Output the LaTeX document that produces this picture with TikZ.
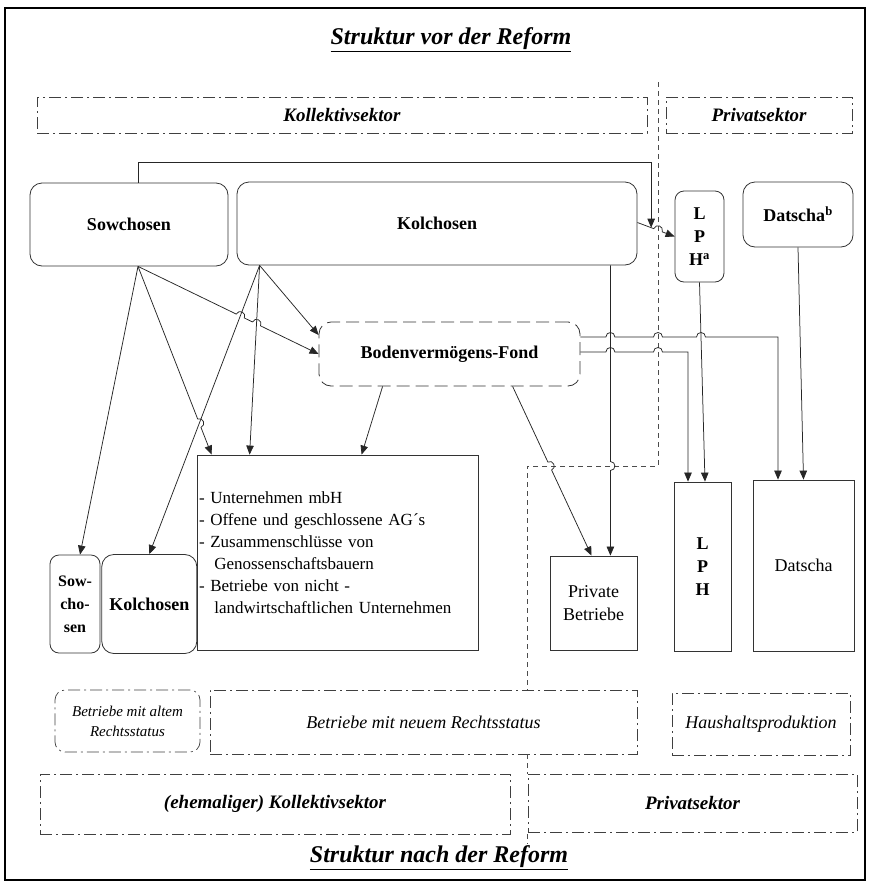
\documentclass[tikz,border=0pt]{standalone}
\usepackage{fontspec}
\setmainfont{Liberation Serif}
\usetikzlibrary{arrows.meta,positioning,calc}

% a line segment that jumps over a crossing line at #1, running from #2 towards #3
\newcommand{\hopover}[3]{-- ($(#1)!4.5pt!(#2)$) to[bend left=90,looseness=1.7] ($(#1)!4.5pt!(#3)$)}

\tikzset{
  farmbox/.style={draw=black!80, line width=0.8pt, rounded corners=12pt, inner sep=0pt,
    align=center, font=\fontsize{18}{23}\selectfont\bfseries},
  flatbox/.style={farmbox, rounded corners=0pt},
  fondbox/.style={farmbox, dash pattern=on 13pt off 6pt},
  sectorbox/.style={draw=black!75, line width=0.7pt, dash pattern=on 12pt off 4pt on 2pt off 4pt,
    inner sep=0pt, align=center, font=\fontsize{19}{23}\selectfont\bfseries\itshape},
  groupbox/.style={sectorbox, font=\fontsize{18}{21}\selectfont\itshape},
  titletext/.style={font=\fontsize{24}{28}\selectfont\bfseries\itshape},
  link/.style={draw=black!85, line width=0.75pt, -{Triangle[length=9pt,width=7.5pt]}},
  divider/.style={draw=black!70, line width=0.7pt, dash pattern=on 5pt off 4pt}
}

\begin{document}
\begin{tikzpicture}[x=1pt, y=-1pt]
    \useasboundingbox (0,0) rectangle (870,884);
    \draw[line width=2.5pt] (5,8) rectangle (865,880);

    % titles
    \node[titletext] (vor) at (451,40) {\underline{Struktur vor der Reform}};
    \node[titletext] (nach) at (439,858) {\underline{Struktur nach der Reform}};

    % sectors before the reform
    \node[sectorbox, minimum width=610pt, minimum height=36pt] (kollvor) at (342,115) {Kollektivsektor};
    \node[sectorbox, minimum width=186pt, minimum height=36pt] (privvor) at (759,115) {Privatsektor};

    % farms before the reform
    \node[farmbox, minimum width=198pt, minimum height=83pt] (sow) at (129,224.5) {Sowchosen};
    \node[farmbox, minimum width=400pt, minimum height=83pt] (kol) at (437,223.5) {Kolchosen};
    \node[farmbox, rounded corners=9pt, minimum width=49pt, minimum height=91pt] (lpha) at (699.5,236.5)
        {L\\P\\H\textsuperscript{a}};
    \node[farmbox, minimum width=110pt, minimum height=65pt] (datb) at (798,214.5) {Datscha\textsuperscript{b}};
    \node[fondbox, minimum width=261pt, minimum height=64pt] (bvf) at (449.5,354) {Bodenverm\"ogens-Fond};

    % farms after the reform
    \node[farmbox, rounded corners=9pt, font=\fontsize{16}{23}\selectfont\bfseries,
        minimum width=50pt, minimum height=98pt] (sowneu) at (75,604) {Sow-\\cho-\\sen};
    \node[farmbox, minimum width=95pt, minimum height=99pt, right=1pt of sowneu] (kolneu) {Kolchosen};
    \node[flatbox, font=\fontsize{17}{22}\selectfont, align=left, text width=277pt, inner xsep=2pt,
        minimum height=195pt] (neu) at (337.5,552.5)
        {- Unternehmen mbH\\
         - Offene und geschlossene AG´s\\
         - Zusammenschl\"usse von\\
         \hspace*{0.9em}Genossenschaftsbauern\\
         - Betriebe von nicht -\\
         \hspace*{0.9em}landwirtschaftlichen Unternehmen};
    \node[flatbox, font=\fontsize{18}{23}\selectfont, minimum width=87pt, minimum height=94pt] (priv) at (593.5,603)
        {Private\\Betriebe};
    \node[flatbox, minimum width=57pt, minimum height=169pt] (lphn) at (702.5,566.5) {L\\P\\H};
    \node[flatbox, font=\fontsize{18}{23}\selectfont, minimum width=101pt, minimum height=171pt] (datn) at (803.5,565.5)
        {Datscha};

    % groups after the reform
    \node[groupbox, rounded corners=10pt, font=\fontsize{15}{20}\selectfont\itshape,
        minimum width=145pt, minimum height=62pt] (alt) at (127.5,721) {Betriebe mit altem\\Rechtsstatus};
    \node[groupbox, minimum width=427pt, minimum height=64pt] (neurs) at (423.5,722) {Betriebe mit neuem Rechtsstatus};
    \node[groupbox, minimum width=178pt, minimum height=62pt] (haus) at (761,724) {Haushaltsproduktion};
    \node[sectorbox, minimum width=470pt, minimum height=60pt] (kollnach) at (275,804) {(ehemaliger) Kollektivsektor};
    \node[sectorbox, minimum width=329pt, minimum height=58pt] (privnach) at (692.5,803) {Privatsektor};

    % border between the sectors
    \coordinate (dtop) at (658,82);
    \coordinate (dknee) at (658,466);
    \coordinate (dfoot) at (527,466);
    \draw[divider] (dtop) -- (dknee) -- (dfoot) -- (dfoot |- alt.north);
    \draw[divider] (dfoot |- neurs.south) -- (dfoot |- kollnach.north);
    \draw[divider] (dfoot |- kollnach.south) -- ++(0,10);

    % end points of the connectors
    \coordinate (sowo) at ([xshift=9pt]sow.south);
    \coordinate (kolo) at ([xshift=23pt]kol.south west);
    \coordinate (kolp) at ([xshift=-27pt]kol.south east);
    \coordinate (kole) at ([yshift=1pt]kol.east);
    \coordinate (sowt) at ([xshift=5pt]sowneu.north);
    \coordinate (koln) at (kolneu.north);
    \coordinate (neua) at ([xshift=15pt]neu.north west);
    \coordinate (neub) at ([xshift=53pt]neu.north west);
    \coordinate (neuc) at ([xshift=165pt]neu.north west);
    \coordinate (bvfw) at (bvf.west);
    \coordinate (bvfa) at ([yshift=19pt]bvf.west);
    \coordinate (bvfb) at ([xshift=64pt]bvf.south west);
    \coordinate (bvfc) at ([xshift=194pt]bvf.south west);
    \coordinate (bvfu) at ([yshift=17pt]bvf.east);
    \coordinate (bvfl) at ([yshift=2pt]bvf.east);
    \coordinate (privt) at ([xshift=-2pt]priv.north);
    \coordinate (privk) at (kolp |- priv.north);
    \coordinate (lphw) at (lpha.west);
    \coordinate (lphb) at (lpha.south);
    \coordinate (lpht) at ([xshift=-14.5pt]lphn.north);
    \coordinate (lphs) at ([xshift=2.5pt]lphn.north);
    \coordinate (datt) at ([xshift=-25.5pt]datn.north);
    \coordinate (ucorner) at (datt |- bvfu);
    \coordinate (lcorner) at (lpht |- bvfl);
    \coordinate (merge) at ($(kole)!0.37!(lphw)$);

    % crossings
    \coordinate (c1) at (intersection of sowo--bvfw and kolo--koln);
    \coordinate (c2) at (intersection of sowo--bvfw and kolo--neub);
    \coordinate (c3) at (intersection of sowo--neua and kolo--koln);
    \coordinate (c4) at (intersection of bvfc--privt and dknee--dfoot);
    \coordinate (c5) at (kolp |- dfoot);
    \coordinate (c6) at (kolp |- bvfu);
    \coordinate (c7) at (dtop |- bvfu);
    \coordinate (c8) at (intersection of bvfu--ucorner and lphb--lphs);
    \coordinate (c9) at (kolp |- bvfl);
    \coordinate (c10) at (dtop |- bvfl);
    \coordinate (c11) at (intersection of kole--lphw and dtop--dknee);

    % Sowchosen
    \draw[link] (sowo) -- (sowt);
    \draw[link] (sowo) \hopover{c3}{sowo}{neua} -- (neua);
    \draw[link] (sowo) \hopover{c1}{sowo}{bvfw} \hopover{c2}{sowo}{bvfw} -- (bvfw);
    \draw[link] ([xshift=9pt]sow.north) -- ++(0,-20) -| (merge);

    % Kolchosen
    \draw[link] (kolo) -- (koln);
    \draw[link] (kolo) -- (neub);
    \draw[link] (kolo) -- (bvfa);
    \draw[link] (kolp) \hopover{c5}{kolp}{privk} -- (privk);
    \draw[link] (kole) \hopover{c11}{kole}{lphw} -- (lphw);

    % Bodenvermoegens-Fond
    \draw[link] (bvfb) -- (neuc);
    \draw[link] (bvfc) \hopover{c4}{bvfc}{privt} -- (privt);
    \draw[link] (bvfu) \hopover{c6}{bvfu}{ucorner} \hopover{c7}{bvfu}{ucorner} \hopover{c8}{bvfu}{ucorner}
        -- (ucorner) -- (datt);
    \draw[link] (bvfl) \hopover{c9}{bvfl}{lcorner} \hopover{c10}{bvfl}{lcorner} -- (lcorner) -- (lpht);

    % private sector
    \draw[link] (lphb) -- (lphs);
    \draw[link] (datb.south) -- (datn.north);
\end{tikzpicture}
\end{document}
